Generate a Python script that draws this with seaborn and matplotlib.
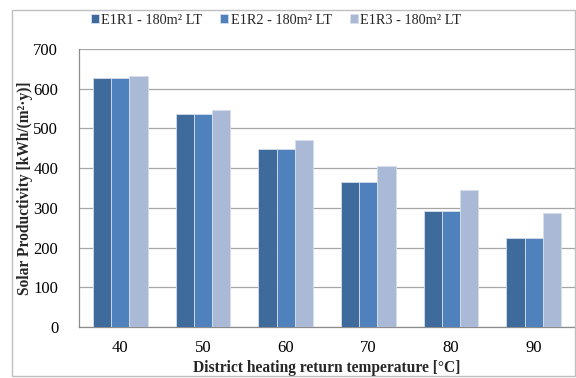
import matplotlib
matplotlib.use("Agg")
import matplotlib.pyplot as plt
import seaborn as sns
import pandas as pd
from matplotlib.patches import Rectangle

categories = ["40", "50", "60", "70", "80", "90"]
series_names = ["E1R1 - 180m² LT", "E1R2 - 180m² LT", "E1R3 - 180m² LT"]
e1r1 = [627, 537, 449, 366, 292, 225]
e1r2 = [627, 537, 449, 366, 292, 225]
e1r3 = [632, 546, 471, 406, 344, 287]
colors = ["#3F6A9C", "#4F81BD", "#AAB9D6"]

rows = []
for name, vals in zip(series_names, [e1r1, e1r2, e1r3]):
    for c, v in zip(categories, vals):
        rows.append({"cat": c, "series": name, "value": v})
df = pd.DataFrame(rows)

sns.set_theme(style="white")
plt.rcParams["font.family"] = ["Liberation Serif", "DejaVu Serif"]

fig = plt.figure(figsize=(5.76, 3.78), dpi=100)
ax = fig.add_axes([79/576, 1 - 327/378, (575-79)/576, (327-49)/378])

sns.barplot(data=df, x="cat", y="value", hue="series", order=categories,
            hue_order=series_names, palette=colors, saturation=1, width=0.66, gap=0,
            edgecolor="#D6DEEC", linewidth=0.6, ax=ax, legend=True, zorder=3)

ax.set_ylim(0, 700)
ax.set_yticks(range(0, 701, 100))
ax.yaxis.grid(True, color="#A6A6A6", linewidth=0.9, zorder=0)
ax.set_axisbelow(True)
for s in ["top", "right"]:
    ax.spines[s].set_visible(False)
for s in ["left", "bottom"]:
    ax.spines[s].set_color("#8C8C8C")
    ax.spines[s].set_linewidth(0.9)
ax.tick_params(axis="both", labelsize=12, length=0, colors="black")
ax.tick_params(axis="y", pad=15)
ax.tick_params(axis="x", pad=9)
ax.set_xlabel("District heating return temperature [°C]", fontsize=11.2, fontweight="bold", labelpad=3)
ax.set_ylabel("Solar Productivity [kWh/(m²·y)]", fontsize=11.2, fontweight="bold")
ax.yaxis.set_label_coords((33 - 79) / 496, 0.5)

handles, labels = ax.get_legend_handles_labels()
ax.legend(handles, labels, loc="center", bbox_to_anchor=(276/576, 1 - 20/378),
          bbox_transform=fig.transFigure, ncol=3, frameon=False, fontsize=10.3,
          handlelength=0.55, handleheight=0.55, handletextpad=0.15, columnspacing=1.3,
          borderaxespad=0)

fig.patches.append(Rectangle((12/576, 1 - 376/378), (575-12)/576, (376-10)/378,
                             transform=fig.transFigure, fill=False,
                             edgecolor="#BFBFBF", linewidth=1.0))

fig.savefig("out.png", dpi=100)
